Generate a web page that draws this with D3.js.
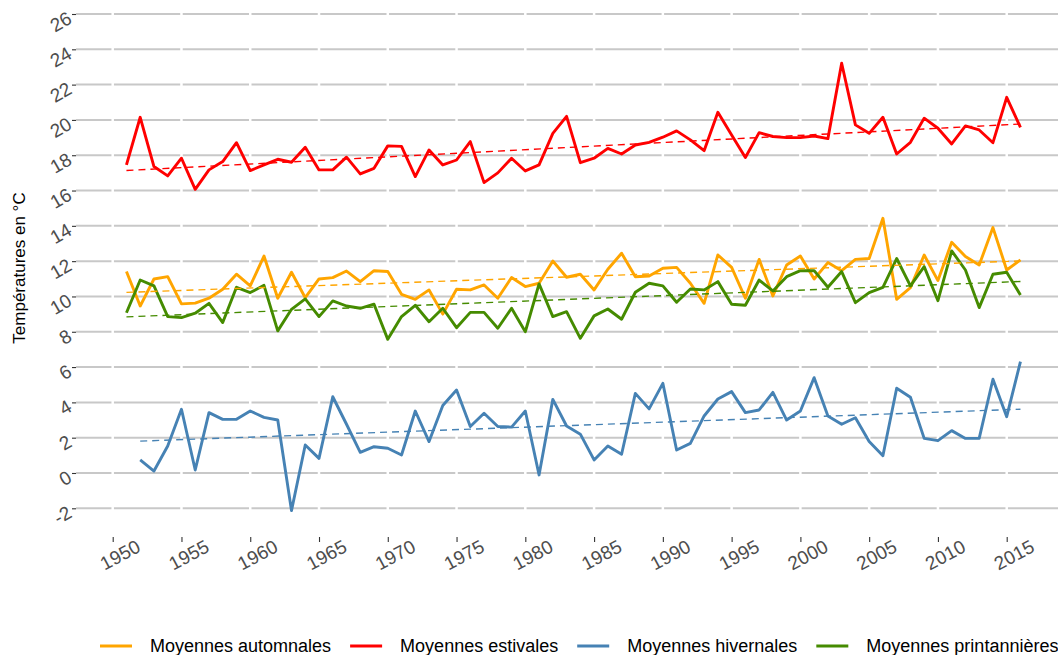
<!DOCTYPE html>
<html>
<head>
<meta charset="utf-8">
<script src="https://cdn.jsdelivr.net/npm/d3@7"></script>
<style>
  html, body { margin: 0; padding: 0; background: #ffffff; }
  svg { display: block; font-family: "Liberation Sans", Arial, Helvetica, sans-serif; }
</style>
</head>
<body>
<svg id="chart" width="1058" height="655"></svg>
<script>
// Mean seasonal temperatures (°C), 1951–2016
const years = d3.range(1951, 2017);

const automnales = [
  11.41, 9.46, 10.99, 11.12, 9.58, 9.62, 9.90, 10.41, 11.26, 10.60,
  12.29, 9.90, 11.37, 9.93, 10.99, 11.07, 11.44, 10.84, 11.46, 11.41,
  10.12, 9.84, 10.37, 9.00, 10.41, 10.37, 10.65, 9.90, 11.07, 10.56,
  10.75, 12.01, 11.09, 11.26, 10.37, 11.54, 12.45, 11.12, 11.16, 11.60,
  11.65, 10.75, 9.61, 12.35, 11.65, 9.90, 12.10, 10.03, 11.78, 12.29,
  10.99, 11.92, 11.46, 12.10, 12.15, 14.43, 9.84, 10.50, 12.35, 10.90,
  13.07, 12.26, 11.78, 13.90, 11.50, 12.07
];

const estivales = [
  17.45, 20.15, 17.36, 16.83, 17.83, 16.07, 17.17, 17.64, 18.71, 17.13,
  17.45, 17.77, 17.60, 18.45, 17.17, 17.17, 17.89, 16.94, 17.26, 18.53,
  18.50, 16.79, 18.30, 17.45, 17.73, 18.77, 16.45, 17.00, 17.83, 17.11,
  17.45, 19.24, 20.20, 17.58, 17.83, 18.39, 18.07, 18.58, 18.73, 19.02,
  19.38, 18.87, 18.26, 20.43, 19.15, 17.87, 19.28, 19.06, 19.00, 19.00,
  19.09, 18.94, 23.21, 19.72, 19.24, 20.15, 18.07, 18.73, 20.10, 19.53,
  18.64, 19.66, 19.43, 18.71, 21.28, 19.58
];

// winter series starts in 1952
const hivernales = [
  null, 0.74, 0.11, 1.53, 3.61, 0.17, 3.42, 3.04, 3.04, 3.51,
  3.15, 3.00, -2.13, 1.59, 0.83, 4.32, 2.76, 1.17, 1.49, 1.40,
  1.02, 3.51, 1.78, 3.82, 4.70, 2.63, 3.38, 2.63, 2.60, 3.51,
  -0.11, 4.17, 2.66, 2.20, 0.74, 1.53, 1.06, 4.51, 3.63, 5.08,
  1.30, 1.68, 3.23, 4.19, 4.61, 3.42, 3.57, 4.57, 3.00, 3.51,
  5.40, 3.23, 2.76, 3.13, 1.78, 0.98, 4.80, 4.29, 1.96, 1.83,
  2.40, 1.96, 1.96, 5.31, 3.19, 6.31
];

const printannieres = [
  9.08, 10.93, 10.60, 8.86, 8.80, 9.05, 9.61, 8.52, 10.52, 10.22,
  10.63, 8.05, 9.27, 9.86, 8.86, 9.75, 9.46, 9.33, 9.56, 7.57,
  8.86, 9.50, 8.57, 9.33, 8.23, 9.10, 9.10, 8.20, 9.33, 8.00,
  10.71, 8.86, 9.14, 7.63, 8.90, 9.29, 8.71, 10.24, 10.75, 10.60,
  9.67, 10.42, 10.37, 10.84, 9.56, 9.50, 10.93, 10.31, 11.12, 11.46,
  11.46, 10.52, 11.41, 9.65, 10.22, 10.52, 12.15, 10.60, 11.69, 9.76,
  12.58, 11.50, 9.37, 11.26, 11.37, 10.08
];

const seriesNames = ["Moyennes automnales", "Moyennes estivales", "Moyennes hivernales", "Moyennes printannières"];
const seriesValues = [automnales, estivales, hivernales, printannieres];
const seriesColors = ["#FFA500", "#FF0000", "#4682B4", "#458B00"];

const xTicks = d3.range(1950, 2016, 5);
const yTicks = d3.range(-2, 27, 2);
const yTitle = "Températures en °C";

// ---- layout ----
const svg = d3.select("#chart");
const W = 1058, H = 655;
const panel = { left: 76, right: 1075, top: -12, bottom: 537 };

const x = d3.scaleLinear().domain([1950, 2015]).range([112.7, 1006.7]);
const y = d3.scaleLinear().domain([-2, 26]).range([508.3, 14]);

svg.append("rect").attr("width", W).attr("height", H).attr("fill", "#ffffff");

const plot = svg.append("g");

// horizontal grid
plot.append("g")
  .selectAll("line")
  .data(yTicks)
  .join("line")
  .attr("x1", panel.left).attr("x2", panel.right)
  .attr("y1", d => y(d)).attr("y2", d => y(d))
  .attr("stroke", "#c8c8c8")
  .attr("stroke-width", 2);

// white vertical grid breaks at each x break
plot.append("g")
  .selectAll("line")
  .data(xTicks)
  .join("line")
  .attr("x1", d => x(d)).attr("x2", d => x(d))
  .attr("y1", panel.top).attr("y2", panel.bottom)
  .attr("stroke", "#ffffff")
  .attr("stroke-width", 2.5);

// y axis
const yAxis = d3.axisLeft(y).tickValues(yTicks).tickSize(4).tickPadding(5).tickFormat(d3.format("d"));
const gy = svg.append("g").attr("transform", `translate(${panel.left},0)`).call(yAxis);
gy.select(".domain").remove();
gy.selectAll(".tick line").attr("stroke", "#333333").attr("stroke-width", 1.1);
gy.selectAll(".tick text")
  .attr("x", null).attr("dy", null)
  .attr("fill", "#4d4d4d")
  .attr("font-size", 19)
  .attr("text-anchor", "end")
  .attr("dominant-baseline", "central")
  .attr("transform", "translate(-6,2) rotate(-30)")
  .text(d => d < 0 ? "-" + Math.abs(d) : d);

// x axis
const xAxis = d3.axisBottom(x).tickValues(xTicks).tickSize(5).tickFormat(d3.format("d"));
const gx = svg.append("g").attr("transform", `translate(0,${panel.bottom})`).call(xAxis);
gx.select(".domain").remove();
gx.selectAll(".tick line").attr("stroke", "#333333").attr("stroke-width", 1.1);
gx.selectAll(".tick text")
  .attr("y", null).attr("dy", null)
  .attr("fill", "#4d4d4d")
  .attr("font-size", 19)
  .attr("text-anchor", "middle")
  .attr("dominant-baseline", "central")
  .attr("transform", "translate(7,18) rotate(-28)");

// y axis title
svg.append("text")
  .attr("transform", "translate(19,268) rotate(-90)")
  .attr("text-anchor", "middle")
  .attr("dominant-baseline", "central")
  .attr("font-size", 17)
  .attr("fill", "#000000")
  .text(yTitle);

// least-squares fit for each series
function linearFit(xs, ys) {
  const pts = xs.map((v, i) => [v, ys[i]]).filter(p => p[1] != null);
  const mx = d3.mean(pts, p => p[0]), my = d3.mean(pts, p => p[1]);
  const sxy = d3.sum(pts, p => (p[0] - mx) * (p[1] - my));
  const sxx = d3.sum(pts, p => (p[0] - mx) * (p[0] - mx));
  const b = sxy / sxx, a = my - b * mx;
  const x0 = pts[0][0], x1 = pts[pts.length - 1][0];
  return [[x0, a + b * x0], [x1, a + b * x1]];
}

const line = d3.line()
  .defined(d => d[1] != null)
  .x(d => x(d[0]))
  .y(d => y(d[1]));

const marks = plot.append("g");
seriesValues.forEach((vals, i) => {
  const pts = years.map((yr, j) => [yr, vals[j]]);
  marks.append("path")
    .attr("d", line(pts))
    .attr("fill", "none")
    .attr("stroke", seriesColors[i])
    .attr("stroke-width", 2.9)
    .attr("stroke-linejoin", "round");
});
seriesValues.forEach((vals, i) => {
  marks.append("path")
    .attr("d", line(linearFit(years, vals)))
    .attr("fill", "none")
    .attr("stroke", seriesColors[i])
    .attr("stroke-width", 1.4)
    .attr("stroke-dasharray", "7,5");
});

// legend
const legend = svg.append("g").attr("transform", "translate(0,646)");
let lx = 100;
seriesNames.forEach((name, i) => {
  legend.append("line")
    .attr("x1", lx).attr("x2", lx + 32)
    .attr("y1", 0).attr("y2", 0)
    .attr("stroke", seriesColors[i])
    .attr("stroke-width", 3);
  const t = legend.append("text")
    .attr("x", lx + 50).attr("y", 0)
    .attr("dominant-baseline", "central")
    .attr("font-size", 18)
    .attr("fill", "#000000")
    .text(name);
  lx += 50 + t.node().getComputedTextLength() + 19;
});
</script>
</body>
</html>
